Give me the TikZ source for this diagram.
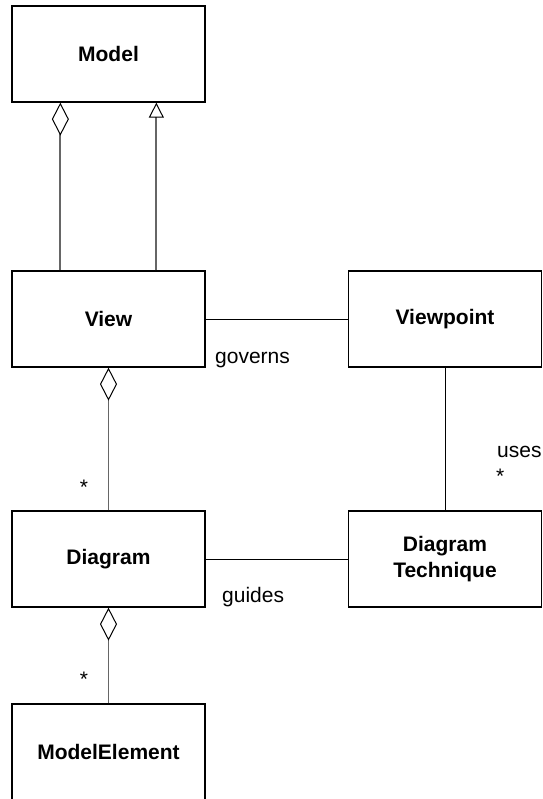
\documentclass[tikz,border=0pt]{standalone}
\usepackage{fontspec}
\setmainfont{Liberation Sans}
\usetikzlibrary{arrows.meta}
\definecolor{linkgray}{HTML}{666666}
\tikzset{
  cls/.style={draw=black, line width=1.3pt, minimum width=193pt, minimum height=96pt,
              inner sep=0pt, align=center, font=\fontsize{21}{25.5}\selectfont\bfseries},
  lbl/.style={inner sep=0pt, font=\fontsize{21}{25}\selectfont},
  assoc/.style={draw=black, line width=1pt},
  partlink/.style={draw=linkgray, line width=1.8pt,
     -{Diamond[open, length=33pt, width=17pt, line width=1pt, color=black]}},
  genlink/.style={draw=linkgray, line width=1.8pt,
     -{Triangle[open, length=15pt, width=15pt, line width=1pt, color=black]}}
}
\begin{document}
\begin{tikzpicture}[x=1pt, y=-1pt]
  \useasboundingbox (0,0) rectangle (542,799);
  \clip (0,0) rectangle (542,799);

  % classes
  \node[cls] (model)   at (108.5,54)  {Model};
  \node[cls] (view)    at (108.5,319) {View};
  \node[cls] (vp)      at (445,319)   {Viewpoint};
  \node[cls] (diagram) at (108.5,559) {Diagram};
  \node[cls] (tech)    at (445,559)   {Diagram\\Technique};
  \node[cls] (elem)    at (108.5,752) {ModelElement};

  % Model <>-- View and View --|> Model
  \draw[partlink] ([xshift=49pt]view.north west) -- ([xshift=49pt]model.south west);
  \draw[genlink]  ([xshift=145pt]view.north west) -- ([xshift=145pt]model.south west);

  % View -- Viewpoint (governs)
  \draw[assoc] (view.east) -- (vp.west);
  \node[lbl, anchor=base west] (governs) at (215,363) {governs};

  % View <>-- Diagram
  \draw[partlink] (diagram.north) -- (view.south);
  \node[lbl, anchor=base] (m1) at (84,494) {*};

  % Viewpoint -- Diagram Technique (uses)
  \draw[assoc] (vp.south) -- (tech.north);
  \node[lbl, anchor=base west] (uses) at (497,457) {uses};
  \node[lbl, anchor=base west] (m3) at (496,483) {*};

  % Diagram -- Diagram Technique (guides)
  \draw[assoc] (diagram.east) -- (tech.west);
  \node[lbl, anchor=base west] (guides) at (222,602) {guides};

  % Diagram <>-- ModelElement
  \draw[partlink] (elem.north) -- (diagram.south);
  \node[lbl, anchor=base] (m2) at (84,686) {*};
\end{tikzpicture}
\end{document}
